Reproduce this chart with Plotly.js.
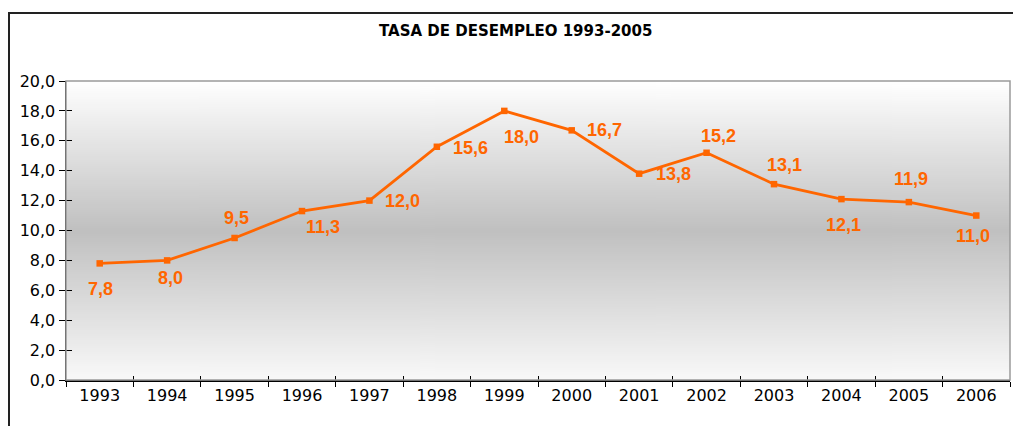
<!DOCTYPE html>
<html>
<head>
<meta charset="utf-8">
<script src="https://cdn.plot.ly/plotly-3.0.1.min.js"></script>
<style>html,body{margin:0;padding:0;background:#fff;}#chart{width:1013px;height:426px;}</style>
</head>
<body>
<div id="chart"></div>
<script>
// Data
const years = ['1993','1994','1995','1996','1997','1998','1999','2000','2001','2002','2003','2004','2005','2006'];
const rates = [7.8, 8.0, 9.5, 11.3, 12.0, 15.6, 18.0, 16.7, 13.8, 15.2, 13.1, 12.1, 11.9, 11.0];
const chartTitle = 'TASA DE DESEMPLEO 1993-2005';

// Label offsets (style, in pixels: [xshift, yshift])
const labelShift = [[1,-26],[3,-18],[2,20],[21,-16],[33,0],[34,-1],[17,-26],[33,0],[34,0],[12,17],[10,19],[2,-26],[2,23],[-3,-20]];

const orange = '#FF6600';

// gradient background image
const cv = document.createElement('canvas');
cv.width = 4; cv.height = 300;
const ctx = cv.getContext('2d');
const g = ctx.createLinearGradient(0,0,0,300);
g.addColorStop(0,'#ffffff');
g.addColorStop(0.5,'#c0c0c0');
g.addColorStop(1,'#f9f9f9');
ctx.fillStyle = g; ctx.fillRect(0,0,4,300);
const bgURL = cv.toDataURL('image/png');

const trace = {
  x: years, y: rates, type: 'scatter', mode: 'lines+markers',
  line: {color: orange, width: 2.8},
  marker: {symbol: 'square', size: 6.5, color: orange},
  hoverinfo: 'skip', showlegend: false
};
const dummy = {x: [], y: [], xaxis: 'x2', yaxis: 'y2', type: 'scatter', showlegend: false};

const annotations = rates.map((v,i) => ({
  x: i, y: v, xref: 'x', yref: 'y',
  xanchor: 'center', yanchor: 'middle',
  text: '<b>' + v.toFixed(1).replace('.', ',') + '</b>',
  showarrow: false,
  xshift: labelShift[i][0], yshift: labelShift[i][1],
  font: {family: 'Liberation Sans, Arial, sans-serif', size: 18, color: orange}
}));
annotations.push({
  xref: 'paper', yref: 'paper', x: (515-66)/944, y: (380-31)/299,
  xanchor: 'center', yanchor: 'middle',
  text: '<b>' + chartTitle + '</b>', showarrow: false,
  font: {family: 'DejaVu Sans, sans-serif', size: 15, color: '#000'}
});

const tickFont = {family: 'DejaVu Sans, sans-serif', size: 16, color: '#000'};

const layout = {
  width: 1013, height: 426,
  margin: {l: 66, r: 3, t: 81, b: 46, pad: 0},
  paper_bgcolor: '#ffffff',
  plot_bgcolor: 'rgba(0,0,0,0)',
  separators: ',.',
  showlegend: false,
  xaxis: {
    type: 'category', range: [-0.5, 13.5], tickson: 'boundaries',
    ticks: 'outside', ticklen: 5, tickcolor: '#000', tickwidth: 1,
    showline: true, linecolor: '#000', linewidth: 1.5,
    showgrid: false, zeroline: false, tickfont: tickFont, fixedrange: true
  },
  yaxis: {
    range: [0, 20], dtick: 2, tick0: 0, tickformat: '.1f',
    ticks: 'outside', ticklen: 6, tickcolor: '#000', tickwidth: 1,
    showline: true, linecolor: '#000', linewidth: 1.5,
    showgrid: false, zeroline: false, tickfont: tickFont, fixedrange: true
  },
  xaxis2: {
    overlaying: 'x', anchor: 'y2', range: [-0.5, 13.5], tick0: -0.5, dtick: 1,
    ticks: 'inside', ticklen: 4, tickcolor: '#000', tickwidth: 1,
    showticklabels: false, showline: false, showgrid: false, zeroline: false, fixedrange: true
  },
  yaxis2: {
    overlaying: 'y', anchor: 'x2', side: 'left', range: [0, 20], dtick: 2, tick0: 0,
    ticks: 'inside', ticklen: 6, tickcolor: '#000', tickwidth: 1,
    showticklabels: false, showline: false, showgrid: false, zeroline: false, fixedrange: true
  },
  images: [{
    source: bgURL, xref: 'paper', yref: 'paper', x: 0, y: 1, sizex: 1, sizey: 1,
    sizing: 'stretch', layer: 'below', xanchor: 'left', yanchor: 'top'
  }],
  shapes: [
    {type: 'rect', xref: 'paper', yref: 'paper', x0: 0, x1: 1, y0: 0, y1: 1,
     line: {color: '#9a9a9a', width: 1.5}, layer: 'above'},
    {type: 'rect', xref: 'paper', yref: 'paper', x0: (9-66)/944, x1: 1.05, y0: -0.3, y1: (380-13)/299,
     line: {color: '#222', width: 2}, layer: 'below'}
  ],
  annotations: annotations
};

Plotly.newPlot('chart', [trace, dummy], layout, {displayModeBar: false, staticPlot: true});
</script>
</body>
</html>
